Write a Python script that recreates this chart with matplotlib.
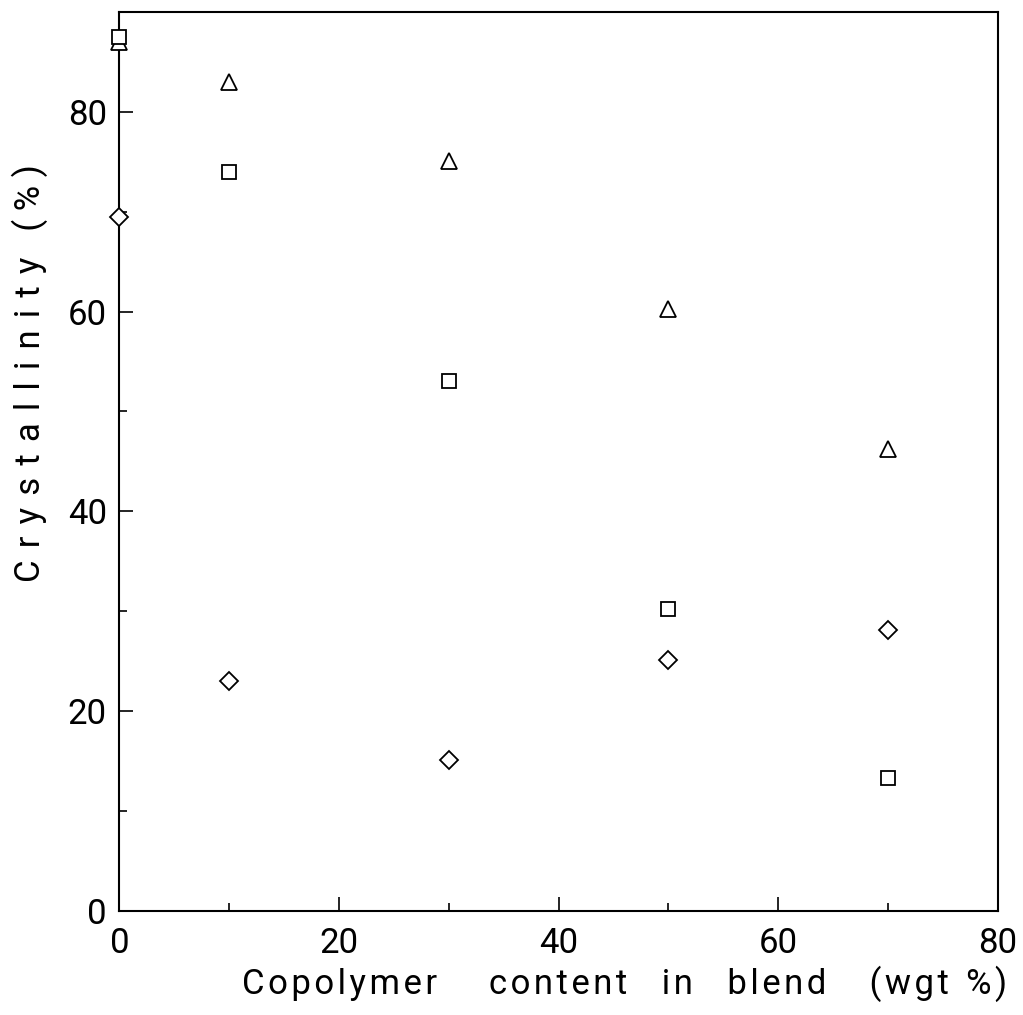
import matplotlib
matplotlib.use("Agg")
import matplotlib.pyplot as plt
from matplotlib.ticker import MultipleLocator

# copolymer content (wgt %)
content = [0, 10, 30, 50, 70]

# crystallinity (%) for the three series
cryst_tri = [87.0, 83.0, 75.1, 60.3, 46.2]
cryst_sq = [87.5, 74.0, 53.0, 30.2, 13.3]
cryst_dia = [69.5, 23.0, 15.1, 25.1, 28.1]

plt.rcParams['font.family'] = ['Roboto', 'DejaVu Sans']


def spaced(word, gap):
    return gap.join(word)


fig = plt.figure(figsize=(10.23, 10.15), dpi=100)
ax = fig.add_axes([0.1168, 0.1028, 0.8585, 0.8854])

style = dict(linestyle='none', markerfacecolor='white', markeredgecolor='black',
             markeredgewidth=1.3, clip_on=False, zorder=3)
ax.plot(content, cryst_tri, marker='^', markersize=11.5, **style)
ax.plot(content, cryst_sq, marker='s', markersize=10.5, **style)
ax.plot(content, cryst_dia, marker='D', markersize=9.5, **style)

ax.set_xlim(0, 80)
ax.set_ylim(0, 90)
ax.xaxis.set_major_locator(MultipleLocator(20))
ax.xaxis.set_minor_locator(MultipleLocator(10))
ax.yaxis.set_major_locator(MultipleLocator(20))
ax.yaxis.set_minor_locator(MultipleLocator(10))
ax.tick_params(which='both', direction='in', top=False, right=False,
               labelsize=25, width=1.2)
ax.tick_params(which='major', length=10)
ax.tick_params(axis='x', which='major', pad=12)
ax.tick_params(axis='y', which='major', pad=9)
ax.tick_params(which='minor', length=6)
for s in ax.spines.values():
    s.set_linewidth(1.5)

hair = '\u200a'
xlab = (spaced('Copolymer', hair) + ' ' * 6 + spaced('content', hair) + ' ' * 4
        + spaced('in', hair) + ' ' * 4 + spaced('blend', hair) + ' ' * 5
        + spaced('(wgt', hair) + '  ' + spaced('%)', hair))
ax.set_xlabel(xlab, fontsize=25, labelpad=4, x=0.575)

ylab = spaced('Crystallinity', ' ' + hair) + ' ' * 3 + spaced('(%)', ' ')
ax.set_ylabel(ylab, fontsize=25, labelpad=14, y=0.598)

fig.savefig('out.png', dpi=100)
